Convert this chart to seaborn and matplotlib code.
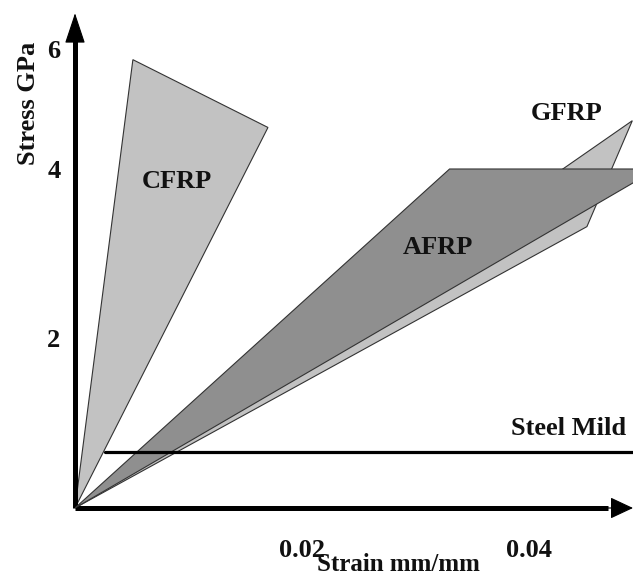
import matplotlib
matplotlib.use("Agg")
import matplotlib.pyplot as plt
import seaborn as sns
import pandas as pd

# ---- data ----
cfrp_strain = [0.0, 0.0051, 0.0170]
cfrp_stress = [0.0, 5.29, 4.49]
gfrp_strain = [0.0, 0.0491, 0.0451]
gfrp_stress = [0.0, 4.57, 3.32]
afrp_strain = [0.0, 0.0330, 0.0496, 0.0496]
afrp_stress = [0.0, 4.00, 4.00, 3.87]
steel_strain = [0.0026, 0.0492]
steel_stress = [0.66, 0.66]

x_ticks = [0.01, 0.02, 0.03, 0.04]
x_tick_labels = ["", "0.02", "", "0.04"]
y_ticks = [2, 4, 5.42]
y_tick_labels = ["2", "4", "6"]

labels = ["CFRP", "AFRP", "GFRP", "Steel Mild"]
label_x = [0.0090, 0.0320, 0.0433, 0.0435]
label_y = [3.85, 3.07, 4.66, 0.94]

sns.set_theme(style="white")
plt.rcParams["font.family"] = ["Liberation Serif", "DejaVu Serif"]
plt.rcParams["font.weight"] = "bold"

W, H = 633, 577
fig = plt.figure(figsize=(W / 100, H / 100), dpi=100)
ox, oy = 75, 508
ax = fig.add_axes([ox / W, (H - oy) / H, (W - ox) / W, oy / H])
ax.set_xlim(0, 0.04916)
ax.set_ylim(0, 5.994)

light = "#c2c2c2"
dark = "#8f8f8f"
ax.fill(gfrp_strain, gfrp_stress, facecolor=light, edgecolor="#333333", lw=0.8, zorder=2)
ax.fill(afrp_strain, afrp_stress, facecolor=dark, edgecolor="#333333", lw=0.8, zorder=3)
ax.fill(cfrp_strain, cfrp_stress, facecolor=light, edgecolor="#333333", lw=0.8, zorder=2)

steel = pd.DataFrame({"strain": steel_strain, "stress": steel_stress})
sns.lineplot(data=steel, x="strain", y="stress", color="black", lw=2.3, ax=ax, zorder=4)

fs = 19
for t, x, y in zip(labels, label_x, label_y):
    ax.text(x, y, t, ha="center", va="center", fontsize=fs, fontweight="bold",
            color="#111111", zorder=6)

# axes drawn as arrows
for s in ["top", "right"]:
    ax.spines[s].set_visible(False)
for s in ["left", "bottom"]:
    ax.spines[s].set_linewidth(3.6)
    ax.spines[s].set_color("black")
    ax.spines[s].set_capstyle("butt")
ax.spines["left"].set_bounds(0, 5.55)
ax.spines["bottom"].set_bounds(0, 0.047)
# x arrow head: ~20 px long, ~19 px wide
ax.annotate("", xy=(1.0, 0), xytext=(0.955, 0), xycoords="axes fraction",
            arrowprops=dict(arrowstyle="-|>,head_length=14.5,head_width=6.8",
                            mutation_scale=1, color="black", lw=0.8,
                            shrinkA=0, shrinkB=0),
            annotation_clip=False, zorder=7)
# y arrow head: ~27 px long, ~18 px wide
ax.annotate("", xy=(0, 0.974), xytext=(0, 0.90), xycoords="axes fraction",
            arrowprops=dict(arrowstyle="-|>,head_length=19.5,head_width=6.5",
                            mutation_scale=1, color="black", lw=0.8,
                            shrinkA=0, shrinkB=0),
            annotation_clip=False, zorder=7)

ax.set_xticks(x_ticks)
ax.set_xticklabels(x_tick_labels)
ax.set_yticks(y_ticks)
ax.set_yticklabels(y_tick_labels)
ax.tick_params(axis="both", direction="inout", length=13, width=3.2, color="black",
               labelsize=fs, labelcolor="#111111")
ax.tick_params(axis="x", pad=16)
ax.tick_params(axis="y", pad=4)
ax.yaxis.get_major_ticks()[2].tick1line.set_visible(False)
for lab in ax.get_xticklabels() + ax.get_yticklabels():
    lab.set_fontweight("bold")

ax.set_xlabel("Strain mm/mm", fontsize=18, fontweight="bold", color="#111111")
ax.set_ylabel("Stress GPa", fontsize=fs, fontweight="bold", color="#111111")
ax.xaxis.set_label_coords(0.579, -0.088)
ax.yaxis.set_label_coords(-0.062, 0.797)
ax.grid(False)

fig.savefig("out.png", dpi=100)
